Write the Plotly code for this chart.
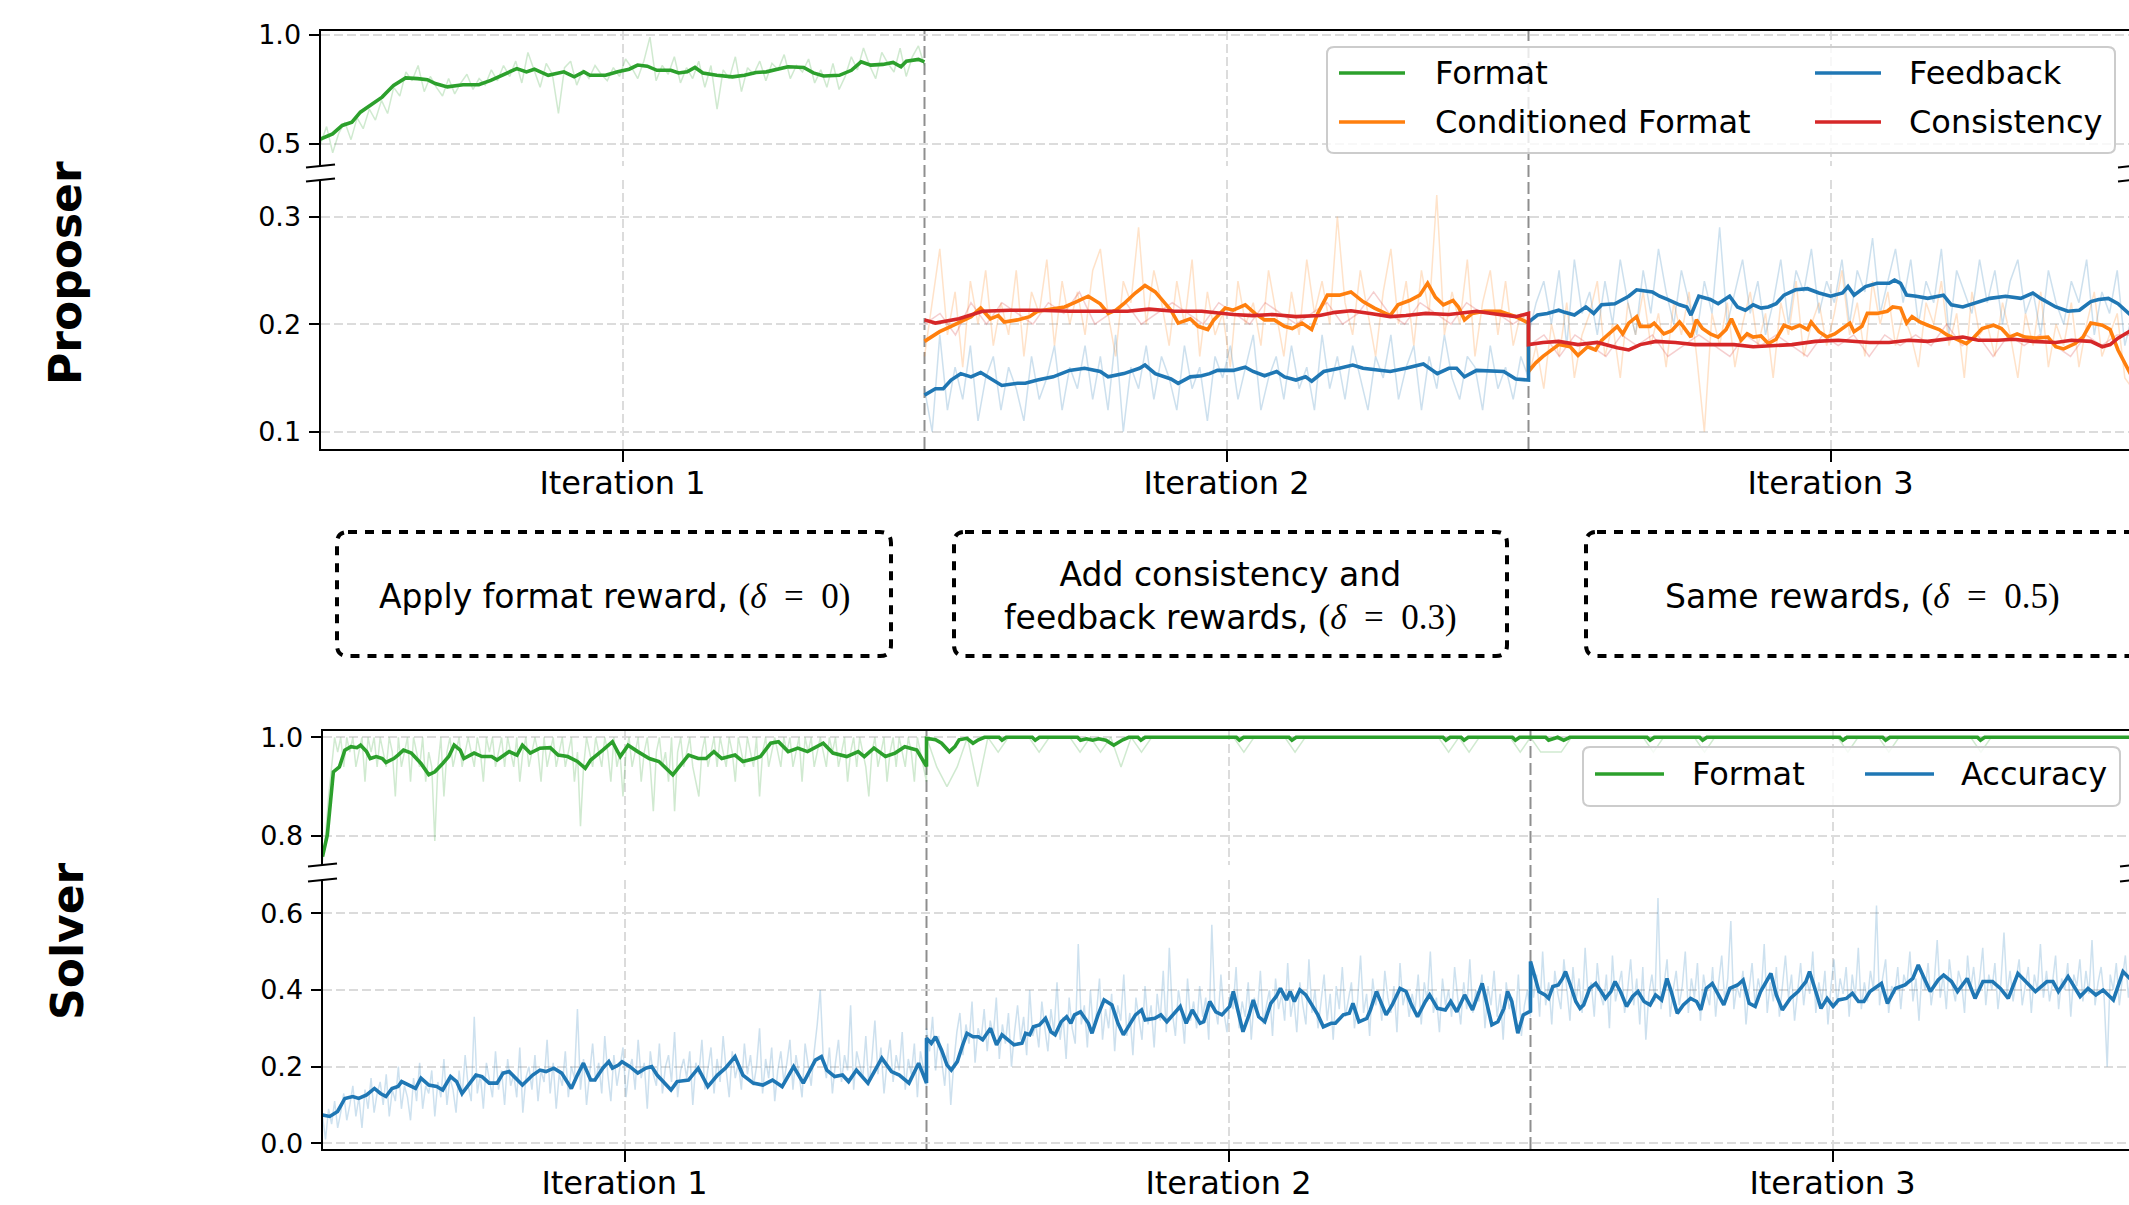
import numpy as np
import plotly.graph_objects as go

W, H = 2129, 1205

# ---------------- axis / label data ----------------
ITER_TICKS = [0.5, 1.5, 2.5]
ITER_LABELS = ["Iteration 1", "Iteration 2", "Iteration 3"]
ITER_BOUNDS = [1, 2, 3]
P_TOP_TICKS = [0.5, 1.0]
P_BOT_TICKS = [0.1, 0.2, 0.3]
S_TOP_TICKS = [0.8, 1.0]
S_BOT_TICKS = [0.0, 0.2, 0.4, 0.6]
P_LEGEND = ["Format", "Conditioned Format", "Feedback", "Consistency"]
S_LEGEND = ["Format", "Accuracy"]
ROW_LABELS = ["Proposer", "Solver"]

GREEN, ORANGE, BLUE, RED = "#2ca02c", "#ff7f0e", "#1f77b4", "#d62728"

# ---------------- Proposer data (step = % of iteration) ----------------
P_FMT_1_STEP = [0, 2, 3.6, 5.2, 6.6, 8.2, 10.2, 12.1, 14.1, 16.1, 17.7, 19, 21, 23.6, 26.2, 28.2, 30.8, 32.5, 34.1, 35.4,
                37.7, 40.3, 42, 43.6, 44.6, 47.2, 49.2, 51.1, 52.5, 54.1, 55.7, 58, 59.3, 60.7, 62, 63.3, 65.6, 68.2, 70.2, 72.1,
                73.8, 75.1, 77.4, 80, 81.6, 83.3, 85.9, 87.9, 89.5, 91.1, 93.1, 94.8, 96.1, 97, 99, 100]
P_FMT_1_VAL = [0.523, 0.546, 0.585, 0.600, 0.646, 0.677, 0.715, 0.769, 0.803, 0.800, 0.795, 0.777, 0.762, 0.772, 0.772, 0.792, 0.823, 0.846, 0.831, 0.843,
               0.815, 0.831, 0.808, 0.831, 0.815, 0.815, 0.831, 0.843, 0.862, 0.857, 0.838, 0.838, 0.826, 0.831, 0.851, 0.826, 0.815, 0.808, 0.815, 0.828,
               0.831, 0.838, 0.854, 0.851, 0.826, 0.812, 0.815, 0.838, 0.877, 0.862, 0.865, 0.874, 0.854, 0.880, 0.888, 0.877]
P_FMT_1_RAW = [0.50, 0.58, 0.46, 0.55, 0.60, 0.52, 0.62, 0.57, 0.66, 0.61, 0.70,
               0.64, 0.76, 0.72, 0.83, 0.79, 0.86, 0.74, 0.81, 0.76, 0.72,
               0.80, 0.73, 0.78, 0.82, 0.75, 0.80, 0.77, 0.84, 0.79, 0.86,
               0.81, 0.88, 0.78, 0.92, 0.84, 0.76, 0.87, 0.82, 0.64, 0.85,
               0.88, 0.77, 0.84, 0.80, 0.86, 0.82, 0.79, 0.85, 0.81, 0.89,
               0.85, 0.80, 0.88, 0.99, 0.79, 0.86, 0.82, 0.90, 0.78, 0.85,
               0.80, 0.88, 0.76, 0.86, 0.66, 0.84, 0.80, 0.90, 0.74, 0.85,
               0.82, 0.88, 0.79, 0.87, 0.84, 0.91, 0.80, 0.86, 0.83, 0.89,
               0.78, 0.84, 0.76, 0.87, 0.75, 0.81, 0.90, 0.84, 0.94, 0.86,
               0.80, 0.92, 0.87, 0.83, 0.94, 0.81, 0.90, 0.95, 0.86]

P_CF_2_STEP = [0, 2.5, 4.4, 6.4, 7.7, 9.3, 10.9, 12.2, 13.2, 15.4, 17.4, 18.7, 23.2, 25.2, 27.1, 29.1, 30.4, 31.7, 33, 34.9,
               36.5, 38.2, 39.5, 40.8, 42, 44, 45.3, 46.9, 47.9, 49.8, 51.1, 53.1, 54.7, 56.3, 57.9, 59.6, 60.9, 62.5, 64.1, 65.1,
               66.7, 68.7, 70.6, 72.6, 74.5, 77.1, 78.4, 80.3, 82, 83.3, 84.6, 85.9, 87.5, 88.4, 89.4, 90.7, 92.7, 95.3, 97.9, 100]
P_CF_2_VAL = [0.184, 0.193, 0.198, 0.204, 0.207, 0.215, 0.205, 0.208, 0.202, 0.204, 0.207, 0.212, 0.216, 0.221, 0.226, 0.219, 0.210, 0.213, 0.219, 0.229,
              0.236, 0.230, 0.222, 0.213, 0.201, 0.205, 0.198, 0.195, 0.204, 0.215, 0.213, 0.218, 0.210, 0.204, 0.204, 0.198, 0.196, 0.201, 0.195, 0.210,
              0.227, 0.227, 0.230, 0.221, 0.215, 0.208, 0.218, 0.222, 0.227, 0.238, 0.225, 0.218, 0.222, 0.216, 0.204, 0.210, 0.212, 0.212, 0.207, 0.201]
P_CF_3_STEP = [0, 1.2, 2.4, 3.7, 5, 6.9, 8.2, 9.8, 11.1, 12.1, 13.4, 14.7, 15.6, 16.6, 17.9, 18.5, 20.1, 20.8, 22.4, 23.7,
               25, 25.6, 26.9, 27.8, 28.8, 30.1, 31.4, 32.7, 33.6, 34.6, 35.2, 36.2, 37.2, 38.5, 39.7, 41, 42.3, 43.6, 44.9, 46.2,
               46.8, 48.1, 49.4, 50.7, 52, 53.2, 53.9, 55.2, 56.1, 57.7, 59.4, 60.3, 61.6, 62.6, 63.5, 64.8, 66.1, 68, 69.3, 72.5,
               73.8, 75.1, 77, 78.3, 79.6, 80.9, 82.2, 84.1, 86, 87.3, 88.6, 90.5, 91.8, 93.1, 95, 96.3, 97.6, 99.4, 100]
P_CF_3_VAL = [0.156, 0.164, 0.170, 0.176, 0.181, 0.179, 0.171, 0.179, 0.176, 0.185, 0.191, 0.198, 0.191, 0.201, 0.207, 0.198, 0.198, 0.201, 0.191, 0.194,
              0.202, 0.198, 0.188, 0.204, 0.196, 0.191, 0.188, 0.195, 0.205, 0.193, 0.185, 0.191, 0.188, 0.189, 0.182, 0.186, 0.199, 0.196, 0.199, 0.195,
              0.202, 0.193, 0.188, 0.191, 0.196, 0.201, 0.193, 0.198, 0.210, 0.210, 0.212, 0.216, 0.215, 0.201, 0.207, 0.202, 0.199, 0.195, 0.190, 0.182,
              0.188, 0.196, 0.199, 0.196, 0.188, 0.191, 0.188, 0.187, 0.188, 0.179, 0.177, 0.182, 0.188, 0.201, 0.199, 0.195, 0.176, 0.157, 0.150]
P_CF_2_RAW = [0.17, 0.22, 0.27, 0.19, 0.23, 0.16, 0.24, 0.20, 0.25, 0.18,
              0.22, 0.19, 0.25, 0.17, 0.23, 0.21, 0.26, 0.18, 0.24, 0.20,
              0.23, 0.19, 0.25, 0.27, 0.21, 0.17, 0.24, 0.22, 0.29, 0.20,
              0.25, 0.22, 0.18, 0.24, 0.20, 0.26, 0.17, 0.23, 0.19, 0.21,
              0.16, 0.24, 0.20, 0.22, 0.18, 0.25, 0.21, 0.17, 0.23, 0.19,
              0.26, 0.21, 0.24, 0.20, 0.30, 0.22, 0.19, 0.25, 0.21, 0.17,
              0.23, 0.27, 0.20, 0.24, 0.18, 0.25, 0.21, 0.32, 0.19, 0.23,
              0.20, 0.26, 0.17, 0.22, 0.25, 0.19, 0.24, 0.18, 0.21, 0.20]
P_CF_3_RAW = [0.15, 0.18, 0.14, 0.20, 0.17, 0.22, 0.15, 0.19, 0.21, 0.24,
              0.17, 0.20, 0.15, 0.22, 0.19, 0.23, 0.18, 0.21, 0.16, 0.22,
              0.19, 0.23, 0.17, 0.10, 0.21, 0.18, 0.22, 0.16, 0.20, 0.23,
              0.18, 0.21, 0.15, 0.22, 0.19, 0.24, 0.17, 0.20, 0.22, 0.18,
              0.21, 0.25, 0.19, 0.22, 0.17, 0.24, 0.20, 0.23, 0.18, 0.21,
              0.19, 0.16, 0.22, 0.20, 0.24, 0.18, 0.21, 0.15, 0.23, 0.19,
              0.20, 0.17, 0.22, 0.19, 0.15, 0.21, 0.18, 0.23, 0.16, 0.20,
              0.18, 0.22, 0.16, 0.20, 0.23, 0.17, 0.19, 0.21, 0.15, 0.14]

P_FB_2_STEP = [0, 1.8, 3.1, 4.4, 6, 7.7, 9.3, 11.2, 12.8, 15.4, 16.7, 18.7, 21.3, 24, 26.5, 29.1, 30.4, 33, 35.6, 36.5,
               38.2, 40.8, 42, 44, 45.9, 47.2, 48.5, 51.1, 53.1, 54.4, 56.3, 58.3, 59.6, 61.5, 63.1, 64.1, 66.1, 68.7, 70.9, 72.6,
               75.1, 77.1, 79.7, 82.6, 84.9, 86.8, 88.1, 89.4, 91.4, 94, 95.9, 97.9, 100]
P_FB_2_VAL = [0.134, 0.140, 0.140, 0.148, 0.154, 0.151, 0.155, 0.148, 0.143, 0.145, 0.145, 0.148, 0.151, 0.157, 0.159, 0.156, 0.151, 0.154, 0.159, 0.162,
              0.154, 0.149, 0.145, 0.151, 0.152, 0.154, 0.157, 0.157, 0.160, 0.156, 0.152, 0.156, 0.151, 0.148, 0.151, 0.147, 0.156, 0.159, 0.162, 0.159,
              0.157, 0.156, 0.159, 0.163, 0.154, 0.159, 0.159, 0.151, 0.157, 0.156, 0.156, 0.149, 0.148]
P_FB_3_STEP = [0, 1.5, 3.1, 5, 6, 7.6, 9.5, 10.8, 12.1, 14.3, 16.6, 17.9, 20.5, 21.7, 23, 25, 26.2, 26.9, 28.2, 30.1,
               31.4, 33.3, 34.6, 35.9, 37.2, 38.5, 39.7, 41, 42.3, 44.2, 46.2, 48.1, 50, 52, 52.9, 53.9, 55.8, 57.7, 59.7, 60.6,
               61.6, 62.6, 64.2, 66.1, 68.7, 70, 71.9, 74.5, 76.4, 79, 81.5, 83.5, 84.8, 87.3, 89.3, 91.2, 93.1, 94.4, 96, 97.6,
               99.4, 100]
P_FB_3_VAL = [0.202, 0.2085, 0.210, 0.213, 0.211, 0.2085, 0.216, 0.210, 0.218, 0.219, 0.226, 0.232, 0.230, 0.226, 0.223, 0.218, 0.216, 0.2085, 0.226, 0.223,
              0.219, 0.226, 0.216, 0.213, 0.218, 0.215, 0.216, 0.219, 0.227, 0.232, 0.233, 0.229, 0.226, 0.229, 0.235, 0.227, 0.235, 0.238, 0.238, 0.241,
              0.238, 0.227, 0.226, 0.224, 0.227, 0.218, 0.216, 0.221, 0.224, 0.226, 0.224, 0.229, 0.224, 0.216, 0.212, 0.213, 0.221, 0.223, 0.224, 0.219,
              0.210, 0.207]
P_FB_2_RAW = [0.14, 0.10, 0.19, 0.12, 0.16, 0.13, 0.18, 0.11, 0.15, 0.17,
              0.12, 0.16, 0.14, 0.11, 0.17, 0.13, 0.15, 0.18, 0.12, 0.16,
              0.14, 0.18, 0.13, 0.17, 0.12, 0.19, 0.10, 0.16, 0.14, 0.18,
              0.13, 0.17, 0.15, 0.12, 0.18, 0.14, 0.16, 0.11, 0.17, 0.15,
              0.18, 0.13, 0.16, 0.19, 0.12, 0.15, 0.17, 0.13, 0.18, 0.14,
              0.16, 0.12, 0.19, 0.14, 0.17, 0.13, 0.18, 0.15, 0.12, 0.17,
              0.15, 0.19, 0.13, 0.16, 0.18, 0.12, 0.17, 0.14, 0.19, 0.15,
              0.13, 0.17, 0.16, 0.12, 0.18, 0.14, 0.16, 0.13, 0.17, 0.15]
P_FB_3_RAW = [0.19, 0.22, 0.24, 0.20, 0.25, 0.18, 0.26, 0.21, 0.23, 0.19,
              0.24, 0.20, 0.26, 0.22, 0.19, 0.25, 0.21, 0.27, 0.23, 0.20,
              0.25, 0.22, 0.19, 0.24, 0.21, 0.29, 0.20, 0.23, 0.26, 0.21,
              0.24, 0.19, 0.22, 0.26, 0.20, 0.25, 0.23, 0.27, 0.21, 0.24,
              0.22, 0.26, 0.20, 0.25, 0.23, 0.28, 0.21, 0.24, 0.27, 0.22,
              0.26, 0.20, 0.24, 0.22, 0.27, 0.19, 0.25, 0.23, 0.21, 0.26,
              0.22, 0.25, 0.20, 0.24, 0.26, 0.21, 0.23, 0.19, 0.25, 0.22,
              0.20, 0.24, 0.22, 0.26, 0.19, 0.23, 0.21, 0.25, 0.18, 0.21]

P_CS_2_STEP = [0, 1.8, 5.7, 9.6, 14.1, 18.7, 24, 28.4, 33.6, 37.2, 41.4, 45.9, 51.1, 54.4, 57.6, 61.5, 65.4, 68, 70.6, 73.8,
               77.1, 79.7, 83, 86.8, 91.4, 93.9, 97.9, 100]
P_CS_2_VAL = [0.204, 0.201, 0.205, 0.212, 0.213, 0.213, 0.212, 0.212, 0.212, 0.214, 0.212, 0.212, 0.209, 0.208, 0.209, 0.207, 0.208, 0.211, 0.2125, 0.210,
              0.207, 0.208, 0.210, 0.209, 0.212, 0.210, 0.207, 0.210]
P_CS_3_STEP = [0, 2.4, 5, 8.2, 11.4, 14.7, 16.6, 18.5, 21.1, 24.3, 27.5, 34, 37.2, 43.6, 47.5, 51.3, 53.9, 56.5, 59.7, 62.9,
               66.1, 69.3, 71.9, 74.5, 77.7, 80.3, 83.5, 87.3, 89.9, 93.1, 95, 96.3, 97.6, 99.4, 100]
P_CS_3_VAL = [0.181, 0.183, 0.184, 0.181, 0.183, 0.178, 0.176, 0.181, 0.184, 0.183, 0.181, 0.181, 0.179, 0.181, 0.184, 0.185, 0.184, 0.183, 0.183, 0.185,
              0.184, 0.186, 0.188, 0.185, 0.185, 0.186, 0.184, 0.183, 0.185, 0.184, 0.179, 0.181, 0.187, 0.193, 0.195]
P_CS_2_RAW = [0.20, 0.21, 0.19, 0.22, 0.20, 0.22, 0.21, 0.20, 0.22, 0.21, 0.23, 0.20, 0.21, 0.22, 0.20, 0.21, 0.22, 0.21, 0.20, 0.22,
              0.21, 0.20, 0.22, 0.21, 0.20, 0.21, 0.22, 0.20, 0.21, 0.23, 0.21, 0.20, 0.22, 0.21, 0.20, 0.22, 0.21, 0.21, 0.20, 0.21]
P_CS_3_RAW = [0.18, 0.19, 0.17, 0.19, 0.18, 0.17, 0.19, 0.18, 0.19, 0.17, 0.18, 0.19, 0.18, 0.17, 0.19, 0.18, 0.19, 0.18, 0.17, 0.19,
              0.18, 0.19, 0.17, 0.19, 0.18, 0.19, 0.18, 0.20, 0.18, 0.19, 0.17, 0.19, 0.18, 0.19, 0.18, 0.17, 0.19, 0.18, 0.19, 0.19]

# ---------------- Solver data ----------------
S_FMT_1_STEP = [0, 0.8, 1.8, 2.8, 3.7, 4.7, 5.7, 6.3, 7.3, 7.9, 8.9, 9.9, 10.5, 11.8, 12.5, 13.4, 14.7, 16.3, 17.6, 18.6,
                19.9, 20.9, 21.8, 22.8, 23.4, 25.1, 26.4, 28, 28.9, 30.9, 32.2, 33.1, 34.4, 36, 37.7, 39, 40.6, 42.2, 43.5, 44.4,
                46.4, 48, 49.3, 50.6, 52.2, 54.1, 55.7, 58, 59.3, 60.6, 62.2, 63.5, 64.8, 66.1, 68.3, 69.6, 71.6, 72.5, 74.2, 75.5,
                77.1, 78.7, 80.3, 82.9, 84.5, 86.8, 88.7, 89.7, 91.3, 93.2, 94.8, 96.4, 98.4, 100]
S_FMT_1_VAL = [0.758, 0.802, 0.930, 0.940, 0.974, 0.981, 0.979, 0.984, 0.971, 0.957, 0.961, 0.957, 0.949, 0.957, 0.964, 0.974, 0.968, 0.947, 0.924, 0.930,
               0.947, 0.961, 0.984, 0.974, 0.957, 0.968, 0.961, 0.961, 0.954, 0.971, 0.964, 0.984, 0.968, 0.978, 0.979, 0.964, 0.961, 0.951, 0.937, 0.954,
               0.974, 0.991, 0.961, 0.984, 0.971, 0.957, 0.951, 0.924, 0.944, 0.964, 0.957, 0.957, 0.971, 0.957, 0.964, 0.951, 0.957, 0.961, 0.988, 0.991,
               0.971, 0.978, 0.971, 0.988, 0.968, 0.961, 0.971, 0.961, 0.978, 0.961, 0.968, 0.981, 0.974, 0.941]
S_FMT_2_STEP = [0, 1.5, 2.5, 3.8, 4.7, 5.4, 6.7, 7.7, 8.6, 9.6, 12, 12.5, 13.2, 17.5, 18, 18.7, 25, 25.5, 26.5, 27.5,
                28.5, 29.7, 31, 32.5, 33.5, 35, 35.5, 36.2, 51.3, 51.8, 52.5, 60, 60.5, 61.2, 85.5, 86, 86.7, 88.5, 89, 89.7,
                97, 97.5, 98.2, 100]
S_FMT_2_VAL = [0.998, 0.995, 0.988, 0.971, 0.981, 0.995, 0.998, 0.988, 0.995, 1.0, 1.0, 0.994, 1.0, 1.0, 0.994, 1.0, 1.0, 0.994, 0.997, 0.994,
               0.997, 0.994, 0.984, 0.995, 1.0, 1.0, 0.994, 1.0, 1.0, 0.994, 1.0, 1.0, 0.994, 1.0, 1.0, 0.994, 1.0, 1.0, 0.994, 1.0,
               1.0, 0.994, 1.0, 1.0]
S_FMT_3_STEP = [0, 2.5, 3, 4.5, 5.5, 6.5, 19.3, 19.8, 20.5, 28, 28.5, 29.2, 51.2, 51.7, 52.4, 58.3, 58.8, 59.5, 74, 74.5, 75.2, 100]
S_FMT_3_VAL = [1.0, 1.0, 0.994, 1.0, 0.994, 1.0, 1.0, 0.994, 1.0, 1.0, 0.994, 1.0, 1.0, 0.994, 1.0, 1.0, 0.994, 1.0, 1.0, 0.994, 1.0, 1.0]
S_FMT_1_RAW = [0.75, 0.80, 0.88, 0.94, 1.0, 0.97, 1.0, 0.94, 1.0, 0.97,
               1.0, 0.94, 0.97, 1.0, 0.91, 1.0, 0.97, 1.0, 0.94, 1.0,
               0.97, 0.94, 1.0, 0.97, 0.88, 1.0, 0.94, 0.97, 1.0, 0.91,
               1.0, 0.97, 0.94, 1.0, 0.91, 0.97, 0.94, 0.79, 0.94, 1.0,
               0.88, 0.97, 1.0, 0.94, 0.97, 1.0, 0.94, 0.97, 1.0, 0.97,
               0.94, 1.0, 0.97, 0.91, 1.0, 0.97, 1.0, 0.94, 0.97, 1.0,
               0.94, 1.0, 0.97, 0.94, 1.0, 0.91, 0.97, 1.0, 0.94, 0.97,
               1.0, 0.97, 0.91, 1.0, 0.94, 0.97, 1.0, 0.94, 0.97, 1.0,
               0.94, 0.97, 1.0, 0.91, 0.97, 0.82, 0.94, 1.0, 0.97, 0.94,
               1.0, 0.97, 0.94, 1.0, 0.97, 0.91, 1.0, 0.94, 0.97, 0.88,
               0.97, 1.0, 0.94, 0.97, 1.0, 0.91, 0.97, 1.0, 0.94, 0.85,
               0.97, 1.0, 0.94, 0.97, 0.91, 1.0, 0.85, 0.97, 1.0, 0.94,
               0.97, 1.0, 0.94, 0.91, 0.88, 0.97, 1.0, 0.94, 0.97, 1.0,
               0.94, 1.0, 0.97, 0.94, 1.0, 0.97, 0.91, 1.0, 0.97, 0.94,
               1.0, 0.97, 0.94, 1.0, 0.88, 0.97, 1.0, 0.94, 0.97, 1.0,
               0.97, 0.94, 1.0, 0.97, 1.0, 0.94, 0.97, 1.0, 0.91, 1.0,
               0.97, 1.0, 0.94, 0.97, 1.0, 0.97, 0.94, 1.0, 0.97, 1.0,
               0.94, 0.97, 1.0, 0.91, 0.97, 1.0, 0.94, 1.0, 0.97, 0.94,
               0.88, 0.97, 1.0, 0.94, 0.97, 1.0, 0.91, 0.97, 1.0, 0.94,
               1.0, 0.97, 0.94, 1.0, 0.97, 0.91, 1.0, 0.97, 0.94, 0.91]
S_FMT_2_RAW = [1.0, 0.94, 0.90, 0.94, 1.0, 0.90, 1.0, 0.97, 1.0, 1.0,
               1.0, 0.97, 1.0, 1.0, 1.0, 0.97, 1.0, 0.97, 1.0, 0.94,
               1.0, 0.97, 1.0, 1.0, 1.0, 1.0, 1.0, 1.0, 1.0, 1.0,
               1.0, 0.97, 1.0, 1.0, 1.0, 1.0, 0.97, 1.0, 1.0, 1.0,
               1.0, 1.0, 1.0, 1.0, 1.0, 1.0, 1.0, 1.0, 1.0, 1.0,
               1.0, 0.97, 1.0, 0.97, 1.0, 1.0, 1.0, 1.0, 0.97, 1.0]
S_FMT_3_RAW = [1.0, 0.97, 0.97, 0.97, 1.0, 1.0, 1.0, 1.0, 1.0, 1.0,
               1.0, 1.0, 0.97, 1.0, 1.0, 1.0, 1.0, 0.97, 1.0, 1.0,
               1.0, 1.0, 1.0, 1.0, 1.0, 1.0, 1.0, 1.0, 1.0, 1.0,
               1.0, 0.97, 1.0, 1.0, 1.0, 0.97, 1.0, 1.0, 1.0, 1.0,
               1.0, 1.0, 1.0, 1.0, 0.97, 1.0, 1.0, 1.0, 1.0, 1.0,
               1.0, 1.0, 1.0, 1.0, 1.0, 1.0, 1.0, 1.0, 1.0, 1.0]

S_ACC_1_STEP = [0, 1.2, 2.5, 3.7, 5, 6, 7.3, 8.6, 9.6, 10.5, 11.5, 12.5, 13.1, 14.4, 15.4, 16.3, 17.6, 18.9, 19.9, 21.2,
                22.2, 23.1, 24.1, 25.4, 26.4, 27.6, 28.9, 29.9, 30.9, 32.2, 33.1, 34.8, 36, 37, 38.3, 39.6, 41.2, 42.2, 43.2, 44.4,
                45.1, 46.4, 47.4, 48, 49, 49.6, 50.9, 52.2, 53.5, 54.5, 55.4, 57.7, 58.7, 60.6, 62.2, 63.8, 65.4, 66.7, 68.3, 69.6,
                71.3, 72.9, 74.5, 76.1, 78, 79.6, 81.6, 82.6, 83.5, 84.8, 86.1, 87.1, 88.4, 90.3, 92.6, 94.2, 95.5, 97.1, 98.7, 100]
S_ACC_1_VAL = [0.074, 0.070, 0.083, 0.117, 0.122, 0.117, 0.126, 0.143, 0.130, 0.122, 0.143, 0.148, 0.161, 0.152, 0.143, 0.170, 0.152, 0.148, 0.139, 0.174,
               0.161, 0.130, 0.152, 0.178, 0.174, 0.157, 0.157, 0.183, 0.187, 0.165, 0.152, 0.178, 0.191, 0.187, 0.196, 0.183, 0.143, 0.178, 0.209, 0.165,
               0.165, 0.196, 0.213, 0.196, 0.204, 0.213, 0.200, 0.183, 0.196, 0.200, 0.178, 0.139, 0.161, 0.165, 0.196, 0.148, 0.178, 0.196, 0.226, 0.178,
               0.157, 0.152, 0.165, 0.148, 0.200, 0.157, 0.217, 0.226, 0.191, 0.174, 0.178, 0.161, 0.191, 0.157, 0.222, 0.187, 0.178, 0.157, 0.209, 0.157]
S_ACC_2_STEP = [0, 0.8, 1.5, 2.5, 3.4, 4.1, 5.1, 6, 6.7, 7.7, 8.6, 9.3, 10.6, 11.6, 12.5, 13.5, 14.5, 15.8, 16.4, 17.1,
                17.7, 18.7, 19.7, 20.6, 21.3, 22.3, 23.2, 23.9, 24.5, 25.5, 26.8, 27.4, 28.4, 29.4, 30.7, 31.7, 32.6, 33.6, 34.6, 35.6,
                36.2, 37.8, 38.8, 39.8, 41.1, 42, 43, 44, 45.3, 45.9, 46.9, 47.9, 48.9, 50.2, 50.8, 51.6, 52.4, 53.4, 54.1, 55,
                56, 57, 57.9, 58.6, 59.6, 60.2, 60.9, 61.8, 62.8, 63.8, 64.8, 65.7, 67, 67.7, 69, 70, 70.6, 71.6, 72.9, 73.5,
                74.5, 76.1, 77.1, 78.4, 79.4, 80.3, 81.3, 82.6, 83.3, 84.6, 85.9, 86.8, 87.8, 89.1, 90.4, 92, 92.7, 93.6, 94.6, 95.6,
                96.2, 96.9, 97.9, 98.8, 100]
S_ACC_2_VAL = [0.274, 0.261, 0.278, 0.243, 0.204, 0.191, 0.213, 0.257, 0.287, 0.278, 0.278, 0.270, 0.300, 0.257, 0.283, 0.270, 0.257, 0.261, 0.287, 0.283,
               0.304, 0.309, 0.326, 0.291, 0.283, 0.317, 0.330, 0.313, 0.335, 0.343, 0.313, 0.287, 0.335, 0.374, 0.361, 0.313, 0.283, 0.309, 0.335, 0.348,
               0.322, 0.326, 0.335, 0.317, 0.339, 0.357, 0.313, 0.348, 0.313, 0.317, 0.370, 0.343, 0.335, 0.357, 0.396, 0.343, 0.291, 0.335, 0.374, 0.330,
               0.317, 0.365, 0.383, 0.404, 0.374, 0.396, 0.370, 0.400, 0.387, 0.361, 0.335, 0.304, 0.313, 0.313, 0.335, 0.339, 0.365, 0.317, 0.326, 0.348,
               0.396, 0.335, 0.361, 0.404, 0.396, 0.361, 0.330, 0.370, 0.387, 0.352, 0.348, 0.370, 0.343, 0.387, 0.348, 0.417, 0.370, 0.309, 0.317, 0.352,
               0.396, 0.370, 0.287, 0.335, 0.345]
S_ACC_3_STEP = [0, 0.8, 1.4, 2.4, 3, 3.7, 4.6, 5.3, 5.8, 6.6, 7.5, 8.2, 8.8, 9.8, 10.8, 11.7, 12.4, 13.3, 14, 14.9,
                15.9, 16.9, 17.8, 18.8, 19.8, 20.7, 21.7, 22.6, 23.3, 24.3, 25.3, 26.5, 27.5, 28.2, 29.1, 30.1, 31.1, 32, 33, 34.3,
                35.2, 36.2, 37.2, 38.1, 39.8, 40.7, 41.7, 43, 44.3, 45.6, 46.2, 47.2, 48.1, 49.1, 50.1, 51, 52.3, 53.3, 54.3, 55.2,
                56.2, 58.1, 59.1, 60.4, 62, 63.3, 64.2, 65.2, 66.2, 67.5, 68.4, 69.7, 70.7, 72.3, 73.6, 74.9, 76.5, 77.8, 79.1, 80.7,
                82, 83.6, 85.5, 86.5, 87.4, 89, 91, 92.3, 93.6, 94.8, 96.5, 98.1, 99.2, 100]
S_ACC_3_VAL = [0.474, 0.430, 0.396, 0.387, 0.378, 0.409, 0.413, 0.430, 0.448, 0.413, 0.370, 0.352, 0.361, 0.404, 0.417, 0.396, 0.378, 0.396, 0.422, 0.396,
               0.357, 0.383, 0.396, 0.370, 0.361, 0.387, 0.374, 0.430, 0.396, 0.339, 0.361, 0.378, 0.370, 0.348, 0.404, 0.417, 0.387, 0.361, 0.404, 0.413,
               0.426, 0.365, 0.357, 0.396, 0.443, 0.387, 0.348, 0.378, 0.396, 0.422, 0.448, 0.396, 0.352, 0.378, 0.357, 0.374, 0.378, 0.391, 0.370, 0.370,
               0.396, 0.417, 0.365, 0.404, 0.413, 0.430, 0.465, 0.430, 0.396, 0.426, 0.439, 0.422, 0.396, 0.430, 0.378, 0.422, 0.422, 0.404, 0.378, 0.443,
               0.422, 0.396, 0.422, 0.422, 0.396, 0.435, 0.383, 0.404, 0.387, 0.400, 0.374, 0.448, 0.430, 0.440]
S_ACC_1_RAW = [0.07, 0.01, 0.09, 0.05, 0.11, 0.04, 0.08, 0.13, 0.06, 0.10,
               0.15, 0.07, 0.12, 0.04, 0.14, 0.09, 0.17, 0.08, 0.13, 0.16,
               0.10, 0.18, 0.07, 0.14, 0.11, 0.20, 0.09, 0.15, 0.12, 0.06,
               0.17, 0.11, 0.21, 0.09, 0.15, 0.13, 0.19, 0.07, 0.16, 0.12,
               0.22, 0.10, 0.17, 0.14, 0.08, 0.19, 0.12, 0.23, 0.15, 0.11,
               0.33, 0.13, 0.18, 0.09, 0.21, 0.16, 0.12, 0.24, 0.14, 0.19,
               0.10, 0.22, 0.15, 0.18, 0.12, 0.25, 0.08, 0.17, 0.20, 0.14,
               0.23, 0.11, 0.19, 0.16, 0.27, 0.13, 0.21, 0.09, 0.18, 0.15,
               0.24, 0.12, 0.20, 0.17, 0.35, 0.14, 0.22, 0.10, 0.19, 0.26,
               0.16, 0.21, 0.13, 0.28, 0.18, 0.11, 0.23, 0.15, 0.20, 0.25,
               0.12, 0.19, 0.22, 0.14, 0.27, 0.17, 0.21, 0.09, 0.24, 0.18,
               0.15, 0.26, 0.13, 0.20, 0.23, 0.16, 0.29, 0.12, 0.19, 0.22,
               0.17, 0.24, 0.10, 0.21, 0.18, 0.27, 0.14, 0.20, 0.25, 0.13,
               0.22, 0.16, 0.28, 0.19, 0.12, 0.24, 0.17, 0.21, 0.14, 0.26,
               0.18, 0.23, 0.15, 0.20, 0.30, 0.13, 0.22, 0.17, 0.25, 0.11,
               0.19, 0.24, 0.16, 0.21, 0.27, 0.14, 0.23, 0.18, 0.12, 0.26,
               0.20, 0.15, 0.24, 0.31, 0.40, 0.22, 0.17, 0.25, 0.13, 0.21,
               0.27, 0.16, 0.23, 0.19, 0.36, 0.14, 0.24, 0.20, 0.17, 0.28,
               0.15, 0.22, 0.32, 0.18, 0.25, 0.13, 0.21, 0.27, 0.16, 0.23,
               0.19, 0.29, 0.14, 0.22, 0.18, 0.26, 0.12, 0.24, 0.20, 0.15]
S_ACC_2_RAW = [0.30, 0.24, 0.33, 0.19, 0.28, 0.22, 0.15, 0.26, 0.10, 0.21,
               0.29, 0.34, 0.23, 0.31, 0.26, 0.37, 0.21, 0.30, 0.27, 0.35,
               0.24, 0.32, 0.28, 0.38, 0.22, 0.31, 0.26, 0.34, 0.20, 0.29,
               0.36, 0.27, 0.33, 0.23, 0.40, 0.28, 0.31, 0.25, 0.37, 0.30,
               0.24, 0.35, 0.29, 0.42, 0.27, 0.33, 0.22, 0.38, 0.30, 0.26,
               0.52, 0.31, 0.36, 0.25, 0.40, 0.29, 0.34, 0.43, 0.27, 0.35,
               0.30, 0.39, 0.24, 0.36, 0.32, 0.44, 0.28, 0.34, 0.23, 0.38,
               0.33, 0.27, 0.41, 0.31, 0.36, 0.25, 0.39, 0.32, 0.45, 0.29,
               0.51, 0.34, 0.28, 0.40, 0.35, 0.26, 0.43, 0.32, 0.37, 0.30,
               0.41, 0.33, 0.38, 0.27, 0.57, 0.36, 0.31, 0.44, 0.34, 0.29,
               0.39, 0.35, 0.46, 0.30, 0.37, 0.33, 0.42, 0.27, 0.38, 0.34,
               0.45, 0.31, 0.36, 0.40, 0.28, 0.43, 0.35, 0.39, 0.32, 0.47,
               0.33, 0.38, 0.29, 0.42, 0.36, 0.31, 0.48, 0.34, 0.40, 0.30,
               0.37, 0.44, 0.32, 0.39, 0.27, 0.41, 0.35, 0.46, 0.33, 0.38,
               0.42, 0.30, 0.37, 0.49, 0.34, 0.39, 0.28, 0.43, 0.36, 0.40,
               0.32, 0.45, 0.38, 0.34, 0.41, 0.29, 0.47, 0.36, 0.40, 0.33,
               0.39, 0.35, 0.44, 0.31, 0.42, 0.37, 0.50, 0.34, 0.38, 0.29,
               0.43, 0.36, 0.40, 0.33, 0.46, 0.38, 0.31, 0.42, 0.35, 0.48,
               0.34, 0.40, 0.37, 0.44, 0.30, 0.41, 0.36, 0.45, 0.33, 0.39,
               0.27, 0.42, 0.35, 0.38, 0.31, 0.44, 0.28, 0.36, 0.40, 0.33]
S_ACC_3_RAW = [0.47, 0.38, 0.44, 0.33, 0.50, 0.36, 0.42, 0.31, 0.45, 0.39,
               0.35, 0.48, 0.40, 0.32, 0.46, 0.37, 0.43, 0.34, 0.51, 0.38,
               0.42, 0.33, 0.47, 0.39, 0.36, 0.44, 0.30, 0.49, 0.37, 0.41,
               0.45, 0.34, 0.40, 0.48, 0.36, 0.43, 0.31, 0.46, 0.27, 0.39,
               0.44, 0.37, 0.64, 0.35, 0.42, 0.48, 0.33, 0.40, 0.45, 0.36,
               0.41, 0.50, 0.34, 0.43, 0.38, 0.47, 0.32, 0.44, 0.39, 0.36,
               0.46, 0.33, 0.42, 0.49, 0.37, 0.43, 0.58, 0.35, 0.41, 0.38,
               0.45, 0.31, 0.40, 0.47, 0.36, 0.43, 0.39, 0.52, 0.34, 0.42,
               0.37, 0.46, 0.33, 0.41, 0.49, 0.38, 0.44, 0.32, 0.40, 0.47,
               0.36, 0.43, 0.39, 0.50, 0.34, 0.42, 0.37, 0.45, 0.31, 0.41,
               0.48, 0.36, 0.43, 0.39, 0.46, 0.33, 0.44, 0.38, 0.51, 0.35,
               0.42, 0.37, 0.45, 0.40, 0.62, 0.36, 0.43, 0.48, 0.34, 0.41,
               0.39, 0.46, 0.35, 0.44, 0.41, 0.50, 0.37, 0.43, 0.32, 0.45,
               0.40, 0.47, 0.36, 0.42, 0.53, 0.38, 0.44, 0.35, 0.48, 0.41,
               0.37, 0.45, 0.42, 0.34, 0.49, 0.40, 0.46, 0.38, 0.43, 0.51,
               0.36, 0.44, 0.40, 0.47, 0.35, 0.42, 0.55, 0.39, 0.45, 0.37,
               0.43, 0.48, 0.36, 0.41, 0.46, 0.34, 0.44, 0.40, 0.52, 0.38,
               0.45, 0.37, 0.42, 0.49, 0.35, 0.43, 0.40, 0.47, 0.33, 0.44,
               0.41, 0.48, 0.37, 0.45, 0.39, 0.53, 0.36, 0.42, 0.46, 0.38,
               0.20, 0.44, 0.40, 0.47, 0.36, 0.43, 0.49, 0.38, 0.45, 0.42]


# ---------------- helpers ----------------
def smooth_xy(parts):
    xs, ys = [], []
    for it, st, va in parts:
        assert len(st) == len(va), (it, len(st), len(va))
        xs.extend((it + np.asarray(st, float) / 100.0).tolist())
        ys.extend(va)
    return xs, ys


def raw_xy(parts):
    xs, ys = [], []
    for it, va in parts:
        xs.extend((it + np.linspace(0, 1, len(va))).tolist())
        ys.extend(va)
    return xs, ys


def X(p):
    return p / W


def Y(p):
    return 1 - p / H


fig = go.Figure()

RAW_W, SM_W, RAW_OP = 1.5, 3.6, 0.22

series = [
    ([(0, P_FMT_1_RAW)], [(0, P_FMT_1_STEP, P_FMT_1_VAL)], GREEN, "x2", "y2"),
    ([(1, P_CF_2_RAW), (2, P_CF_3_RAW)], [(1, P_CF_2_STEP, P_CF_2_VAL), (2, P_CF_3_STEP, P_CF_3_VAL)], ORANGE, "x", "y"),
    ([(1, P_FB_2_RAW), (2, P_FB_3_RAW)], [(1, P_FB_2_STEP, P_FB_2_VAL), (2, P_FB_3_STEP, P_FB_3_VAL)], BLUE, "x", "y"),
    ([(1, P_CS_2_RAW), (2, P_CS_3_RAW)], [(1, P_CS_2_STEP, P_CS_2_VAL), (2, P_CS_3_STEP, P_CS_3_VAL)], RED, "x", "y"),
    ([(0, S_FMT_1_RAW), (1, S_FMT_2_RAW), (2, S_FMT_3_RAW)],
     [(0, S_FMT_1_STEP, S_FMT_1_VAL), (1, S_FMT_2_STEP, S_FMT_2_VAL), (2, S_FMT_3_STEP, S_FMT_3_VAL)], GREEN, "x4", "y4"),
    ([(0, S_ACC_1_RAW), (1, S_ACC_2_RAW), (2, S_ACC_3_RAW)],
     [(0, S_ACC_1_STEP, S_ACC_1_VAL), (1, S_ACC_2_STEP, S_ACC_2_VAL), (2, S_ACC_3_STEP, S_ACC_3_VAL)], BLUE, "x3", "y3"),
]

for rp, sp, col, xa, ya in series:
    rx, ry = raw_xy(rp)
    fig.add_trace(go.Scatter(x=rx, y=ry, mode="lines", line=dict(color=col, width=RAW_W),
                             opacity=RAW_OP, xaxis=xa, yaxis=ya, showlegend=False, hoverinfo="skip"))
for rp, sp, col, xa, ya in series:
    sx, sy = smooth_xy(sp)
    fig.add_trace(go.Scatter(x=sx, y=sy, mode="lines", line=dict(color=col, width=SM_W),
                             xaxis=xa, yaxis=ya, showlegend=False, hoverinfo="skip"))

FONT = "DejaVu Sans"
GRID = dict(showgrid=True, gridcolor="#dcdcdc", gridwidth=1.5, griddash="9px,4px", zeroline=False, automargin=False)
LINE = dict(showline=True, linecolor="black", linewidth=2)


def yax(dom_px, rng, ticks, anchor):
    return dict(domain=[Y(dom_px[1]), Y(dom_px[0])], range=rng, tickvals=ticks, tickformat=".1f",
                ticks="outside", ticklen=10, tickwidth=2, tickcolor="black",
                tickfont=dict(family=FONT, size=27, color="black"), anchor=anchor,
                ticklabelstandoff=2, **GRID, **LINE)


def xax_bottom(left_px, anchor):
    return dict(domain=[X(left_px), 1], range=[0, (W - left_px) / 604.0], tickvals=ITER_TICKS, ticktext=ITER_LABELS,
                ticks="outside", ticklen=11, tickwidth=2, tickcolor="black", ticklabelstandoff=-6,
                tickfont=dict(family=FONT, size=32, color="black"), anchor=anchor, **GRID, **LINE)


def xax_top(left_px, anchor, match):
    return dict(domain=[X(left_px), 1], range=[0, (W - left_px) / 604.0], tickvals=ITER_TICKS, matches=match,
                side="top", ticks="", showticklabels=False, anchor=anchor, **GRID, **LINE)


P_LEFT, S_LEFT = 320.5, 322.5

fig.update_layout(
    width=W, height=H, margin=dict(l=0, r=0, t=0, b=0, pad=0, autoexpand=False), autosize=False,
    paper_bgcolor="white", plot_bgcolor="white", hovermode=False, showlegend=False,
    xaxis=xax_bottom(P_LEFT, "y"),
    xaxis2=xax_top(P_LEFT, "y2", "x"),
    xaxis3=xax_bottom(S_LEFT, "y3"),
    xaxis4=xax_top(S_LEFT, "y4", "x3"),
    yaxis=yax((180, 449), [0.0839, 0.3341], P_BOT_TICKS, "x"),
    yaxis2=yax((30.7, 165.9), [0.3995, 1.0197], P_TOP_TICKS, "x2"),
    yaxis3=yax((880, 1149), [-0.0149, 0.6869], S_BOT_TICKS, "x3"),
    yaxis4=yax((730.7, 865), [0.7412, 1.0134], S_TOP_TICKS, "x4"),
)

shapes = []
for b in ITER_BOUNDS:
    shapes.append(dict(type="line", xref="x", yref="paper", x0=b, x1=b, y0=Y(449), y1=Y(30.7),
                       line=dict(color="#8f8f8f", width=2, dash="12px,5px"), layer="below"))
    shapes.append(dict(type="line", xref="x3", yref="paper", x0=b, x1=b, y0=Y(1149), y1=Y(730.7),
                       line=dict(color="#8f8f8f", width=2, dash="12px,5px"), layer="below"))

for cx, ya, yb in [(P_LEFT, 165.9, 180), (P_LEFT + 3 * 604, 165.9, 180),
                   (S_LEFT, 865, 880), (S_LEFT + 3 * 604, 865, 880)]:
    for yy in (ya, yb):
        shapes.append(dict(type="line", xref="paper", yref="paper", x0=X(cx - 14.5), y0=Y(yy + 1.5),
                           x1=X(cx + 14.5), y1=Y(yy - 1.5), line=dict(color="black", width=2)))


def rrect(x0, y0, x1, y1, r):
    return (f"M {X(x0 + r)},{Y(y0)} L {X(x1 - r)},{Y(y0)} Q {X(x1)},{Y(y0)} {X(x1)},{Y(y0 + r)} "
            f"L {X(x1)},{Y(y1 - r)} Q {X(x1)},{Y(y1)} {X(x1 - r)},{Y(y1)} "
            f"L {X(x0 + r)},{Y(y1)} Q {X(x0)},{Y(y1)} {X(x0)},{Y(y1 - r)} "
            f"L {X(x0)},{Y(y0 + r)} Q {X(x0)},{Y(y0)} {X(x0 + r)},{Y(y0)} Z")


for bx0, bx1 in [(337, 891), (954, 1507), (1586, 2139)]:
    shapes.append(dict(type="path", xref="paper", yref="paper", path=rrect(bx0, 532, bx1, 656, 11),
                       line=dict(color="black", width=4, dash="9px,8px")))

shapes.append(dict(type="path", xref="paper", yref="paper", path=rrect(1327, 47, 2115, 153, 7),
                   line=dict(color="#cccccc", width=2), fillcolor="rgba(255,255,255,0.8)"))
shapes.append(dict(type="path", xref="paper", yref="paper", path=rrect(1583, 747, 2120, 806, 7),
                   line=dict(color="#cccccc", width=2), fillcolor="rgba(255,255,255,0.8)"))

for (hx0, hx1, hy), col in zip([(1339, 1405, 73), (1339, 1405, 122), (1815, 1881, 73), (1815, 1881, 122)],
                               [GREEN, ORANGE, BLUE, RED]):
    shapes.append(dict(type="line", xref="paper", yref="paper", x0=X(hx0), x1=X(hx1), y0=Y(hy), y1=Y(hy),
                       line=dict(color=col, width=3.6)))
for (hx0, hx1, hy), col in zip([(1595, 1664, 774), (1865, 1934, 774)], [GREEN, BLUE]):
    shapes.append(dict(type="line", xref="paper", yref="paper", x0=X(hx0), x1=X(hx1), y0=Y(hy), y1=Y(hy),
                       line=dict(color=col, width=3.6)))

fig.update_layout(shapes=shapes)

ann = []
for (tx, ty), txt in zip([(1433, 73), (1433, 122), (1907, 73), (1907, 122)], P_LEGEND):
    ann.append(dict(x=X(tx), y=Y(ty), text=txt, xanchor="left", yanchor="middle", size=32))
for (tx, ty), txt in zip([(1690, 774), (1959, 774)], S_LEGEND):
    ann.append(dict(x=X(tx), y=Y(ty), text=txt, xanchor="left", yanchor="middle", size=32))

SERIF = "font-family:'Liberation Serif';font-size:35px"
SP = "\u2002"
BOX_TEXT = [
    f"Apply format reward, <span style=\"{SERIF}\">(<i>δ</i>{SP}={SP}0)</span>",
    f"Add consistency and<br>feedback rewards, <span style=\"{SERIF}\">(<i>δ</i>{SP}={SP}0.3)</span>",
    f"Same rewards, <span style=\"{SERIF}\">(<i>δ</i>{SP}={SP}0.5)</span>",
]
for cx, txt in zip([614, 1230.5, 1862.5], BOX_TEXT):
    ann.append(dict(x=X(cx), y=Y(596), text=txt, xanchor="center", yanchor="middle", align="center", size=33))

final_ann = []
for a in ann:
    sz = a.pop("size")
    a.update(xref="paper", yref="paper", showarrow=False, font=dict(family=FONT, size=sz, color="black"))
    final_ann.append(a)

for (cx, cy), txt in zip([(66, 273), (67, 941)], ROW_LABELS):
    final_ann.append(dict(x=X(cx), y=Y(cy), xref="paper", yref="paper", text=f"<b>{txt}</b>", textangle=-90,
                          showarrow=False, xanchor="center", yanchor="middle",
                          font=dict(family=FONT, size=44, color="black")))

fig.update_layout(annotations=final_ann)

fig.write_html("out.html", config={"displayModeBar": False},
               post_script="document.body.style.margin='0';document.body.style.overflow='hidden';")
